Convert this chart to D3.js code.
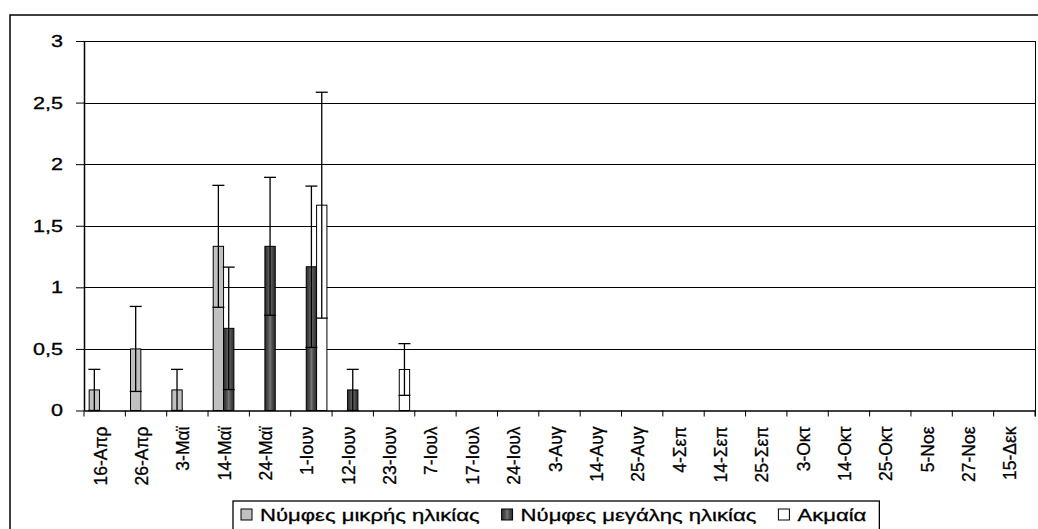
<!DOCTYPE html>
<html>
<head>
<meta charset="utf-8">
<script src="https://cdn.jsdelivr.net/npm/d3@7"></script>
<style>
  body { margin: 0; background: #fff; }
  svg { display: block; font-family: Arial, "Liberation Sans", sans-serif; }
  svg text { stroke: #000; stroke-width: 0.3px; }
</style>
</head>
<body>
<svg id="chart" width="1038" height="529"></svg>
<script>
// dates of sampling (x categories)
const categories = ['16-Απρ', '26-Απρ', '3-Μαϊ', '14-Μαϊ', '24-Μαϊ', '1-Ιουν', '12-Ιουν', '23-Ιουν',
  '7-Ιουλ', '17-Ιουλ', '24-Ιουλ', '3-Αυγ', '14-Αυγ', '25-Αυγ', '4-Σεπ', '14-Σεπ', '25-Σεπ',
  '3-Οκτ', '14-Οκτ', '25-Οκτ', '5-Νοε', '27-Νοε', '15-Δεκ'];

const seriesNames = ['Νύμφες μικρής ηλικίας', 'Νύμφες μεγάλης ηλικίας', 'Ακμαία'];

// mean values
const youngNymphs = [0.167, 0.5, 0.167, 1.333, 0, 0, 0, 0, 0, 0, 0, 0, 0, 0, 0, 0, 0, 0, 0, 0, 0, 0, 0];
const oldNymphs   = [0, 0, 0, 0.667, 1.333, 1.167, 0.167, 0, 0, 0, 0, 0, 0, 0, 0, 0, 0, 0, 0, 0, 0, 0, 0];
const adults      = [0, 0, 0, 0, 0, 1.667, 0, 0.333, 0, 0, 0, 0, 0, 0, 0, 0, 0, 0, 0, 0, 0, 0, 0];

// standard errors (+/-)
const youngErr = [0.167, 0.345, 0.167, 0.495, 0, 0, 0, 0, 0, 0, 0, 0, 0, 0, 0, 0, 0, 0, 0, 0, 0, 0, 0];
const oldErr   = [0, 0, 0, 0.497, 0.56, 0.655, 0.167, 0, 0, 0, 0, 0, 0, 0, 0, 0, 0, 0, 0, 0, 0, 0, 0];
const adultErr = [0, 0, 0, 0, 0, 0.917, 0, 0.21, 0, 0, 0, 0, 0, 0, 0, 0, 0, 0, 0, 0, 0, 0, 0];

const yTicks = [0, 0.5, 1, 1.5, 2, 2.5, 3];

const svg = d3.select('#chart');
const margin = { top: 41, left: 84, right: 1035, bottom: 410.5 };

// outer chart frame (partly cut off by the picture edge)
svg.append('rect')
  .attr('x', 10).attr('y', 15)
  .attr('width', 1040).attr('height', 540)
  .attr('fill', 'none').attr('stroke', '#000').attr('stroke-width', 1.5);

// striped fill of the dark series
const defs = svg.append('defs');
const grad = defs.append('linearGradient').attr('id', 'darkStripes')
  .attr('x1', 0).attr('x2', 1).attr('y1', 0).attr('y2', 0);
[[0, '#2e2e2e'], [0.25, '#474747'], [0.4, '#5e5e5e'], [0.5, '#7a7a7a'], [0.6, '#5e5e5e'], [0.75, '#474747'], [1, '#2e2e2e']]
  .forEach(([o, c]) => grad.append('stop').attr('offset', o).attr('stop-color', c));

const fills = ['#c0c0c0', 'url(#darkStripes)', '#ffffff'];

const x = d3.scaleBand().domain(categories).range([margin.left, margin.right]).padding(0);
const x1 = d3.scaleBand().domain(seriesNames).range([0, x.bandwidth()])
  .paddingInner(0).paddingOuter(0.5);
const y = d3.scaleLinear().domain([0, 3]).range([margin.bottom, margin.top]);

// gridlines
svg.append('g').selectAll('line').data(yTicks.filter(d => d > 0)).join('line')
  .attr('x1', margin.left).attr('x2', margin.right)
  .attr('y1', d => Math.round(y(d)) + 0.5).attr('y2', d => Math.round(y(d)) + 0.5)
  .attr('stroke', '#000').attr('stroke-width', 1);

// right edge of plot area
svg.append('line')
  .attr('x1', margin.right + 0.5).attr('x2', margin.right + 0.5)
  .attr('y1', y(3)).attr('y2', y(0) + 6)
  .attr('stroke', '#000');

// bars
const table = [youngNymphs, oldNymphs, adults];
const errs = [youngErr, oldErr, adultErr];
const barData = [];
categories.forEach((c, i) => {
  seriesNames.forEach((s, k) => {
    barData.push({ cat: c, series: s, k, value: table[k][i], err: errs[k][i] });
  });
});
const nonZero = barData.filter(d => d.value > 0);

svg.append('g').selectAll('rect').data(nonZero).join('rect')
  .attr('x', d => x(d.cat) + x1(d.series))
  .attr('width', x1.bandwidth())
  .attr('y', d => y(d.value))
  .attr('height', d => y(0) - y(d.value))
  .attr('fill', d => fills[d.k])
  .attr('stroke', '#000').attr('stroke-width', 1);

// error bars
const eb = svg.append('g').attr('stroke', '#000').attr('stroke-width', 1.3);
nonZero.filter(d => d.err > 0).forEach(d => {
  const cx = x(d.cat) + x1(d.series) + x1.bandwidth() / 2;
  const top = y(d.value + d.err), bot = y(Math.max(0, d.value - d.err));
  eb.append('line').attr('x1', cx).attr('x2', cx).attr('y1', top).attr('y2', bot);
  eb.append('line').attr('x1', cx - 6).attr('x2', cx + 6).attr('y1', top).attr('y2', top);
  eb.append('line').attr('x1', cx - 6).attr('x2', cx + 6).attr('y1', bot).attr('y2', bot);
});

// y axis
const yAxis = svg.append('g').attr('transform', `translate(${margin.left},0)`)
  .call(d3.axisLeft(y).tickValues(yTicks).tickSize(8).tickSizeOuter(0).tickFormat(d => String(d).replace('.', ',')));
yAxis.select('.domain').attr('stroke', '#000').attr('stroke-width', 1.5);
yAxis.selectAll('.tick line').attr('stroke', '#000');
yAxis.selectAll('.tick text')
  .attr('x', null).attr('dy', null)
  .attr('font-size', 16).attr('fill', '#000')
  .attr('text-anchor', 'end')
  .attr('dominant-baseline', 'central')
  .attr('transform', 'translate(-21,0) scale(1.35,1)');

// x axis
const xAxis = svg.append('g').attr('transform', `translate(0,${margin.bottom})`)
  .call(d3.axisBottom(x).tickSize(0).tickSizeOuter(0));
xAxis.select('.domain').attr('stroke', '#000').attr('stroke-width', 1.5);
xAxis.selectAll('.tick text')
  .attr('y', null).attr('dy', null)
  .attr('font-size', 17.5).attr('fill', '#000')
  .attr('text-anchor', 'end')
  .attr('transform', 'translate(2,16) rotate(-90)');

// tick marks between categories
svg.append('g').selectAll('line').data(d3.range(categories.length + 1)).join('line')
  .attr('x1', i => margin.left + i * x.bandwidth()).attr('x2', i => margin.left + i * x.bandwidth())
  .attr('y1', margin.bottom).attr('y2', margin.bottom + 6)
  .attr('stroke', '#000');

// legend
const legend = svg.append('g').attr('class', 'legend');
const legendBox = legend.append('rect')
  .attr('y', 501).attr('height', 60)
  .attr('fill', '#fff').attr('stroke', '#000').attr('stroke-width', 1.3);
let lx = 241;
const sx = 1.3;
const gap = 22;
seriesNames.forEach((name, k) => {
  legend.append('rect')
    .attr('x', lx).attr('y', 509).attr('width', 11).attr('height', 11)
    .attr('fill', fills[k]).attr('stroke', '#000');
  const t = legend.append('text')
    .attr('font-size', 17).attr('fill', '#000')
    .attr('transform', `translate(${lx + 19},521) scale(${sx},1)`)
    .text(name);
  const w = t.node().getComputedTextLength() * sx;
  lx += 19 + w + gap;
});
legendBox.attr('x', 233).attr('width', lx - gap + 13 - 233);
</script>
</body>
</html>
